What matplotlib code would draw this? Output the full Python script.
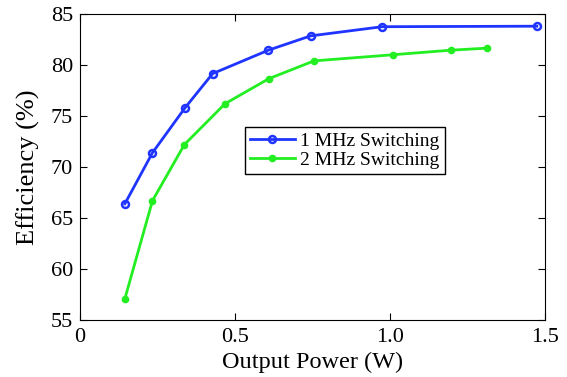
import matplotlib
matplotlib.use("Agg")
import matplotlib.pyplot as plt

# output power (W) vs efficiency (%)
p_1mhz = [0.145, 0.234, 0.339, 0.428, 0.608, 0.744, 0.975, 1.474]
eff_1mhz = [66.4, 71.4, 75.8, 79.15, 81.45, 82.85, 83.75, 83.8]

p_2mhz = [0.145, 0.234, 0.337, 0.468, 0.609, 0.755, 1.009, 1.197, 1.314]
eff_2mhz = [57.1, 66.7, 72.2, 76.2, 78.65, 80.4, 81.0, 81.45, 81.65]

xticks = [0, 0.5, 1, 1.5]
xticklabels = ["0", "0.5", "1.0", "1.5"]
yticks = [55, 60, 65, 70, 75, 80, 85]

plt.rcParams["font.family"] = ["Liberation Serif", "DejaVu Serif"]

fig = plt.figure(figsize=(5.67, 3.77), dpi=100)
ax = fig.add_axes([0.141, 0.151, 0.820, 0.812])

ax.plot(p_1mhz, eff_1mhz, color="#1f35ff", lw=2, marker="o", ms=5,
        mfc="none", mew=1.8, label="1 MHz Switching")
ax.plot(p_2mhz, eff_2mhz, color="#22ee22", lw=2, marker=".", ms=9,
        label="2 MHz Switching")

ax.set_xlim(0, 1.5)
ax.set_ylim(55, 85)
ax.set_xticks(xticks)
ax.set_xticklabels(xticklabels)
ax.set_yticks(yticks)
ax.tick_params(direction="in", top=True, right=True, labelsize=16, length=5)
ax.tick_params(axis="x", pad=6)
ax.tick_params(axis="y", pad=5)
ax.set_xlabel("Output Power (W)", fontsize=17.5, labelpad=3)
ax.set_ylabel("Efficiency (%)", fontsize=19, labelpad=8)

leg = ax.legend(loc="lower left", bbox_to_anchor=(0.355, 0.477), fontsize=14,
                fancybox=False, edgecolor="black", framealpha=1,
                handlelength=2.3, borderpad=0.25, labelspacing=0.1,
                handletextpad=0.3, borderaxespad=0)
leg.get_frame().set_linewidth(1.0)

fig.savefig("out.png", dpi=100)
